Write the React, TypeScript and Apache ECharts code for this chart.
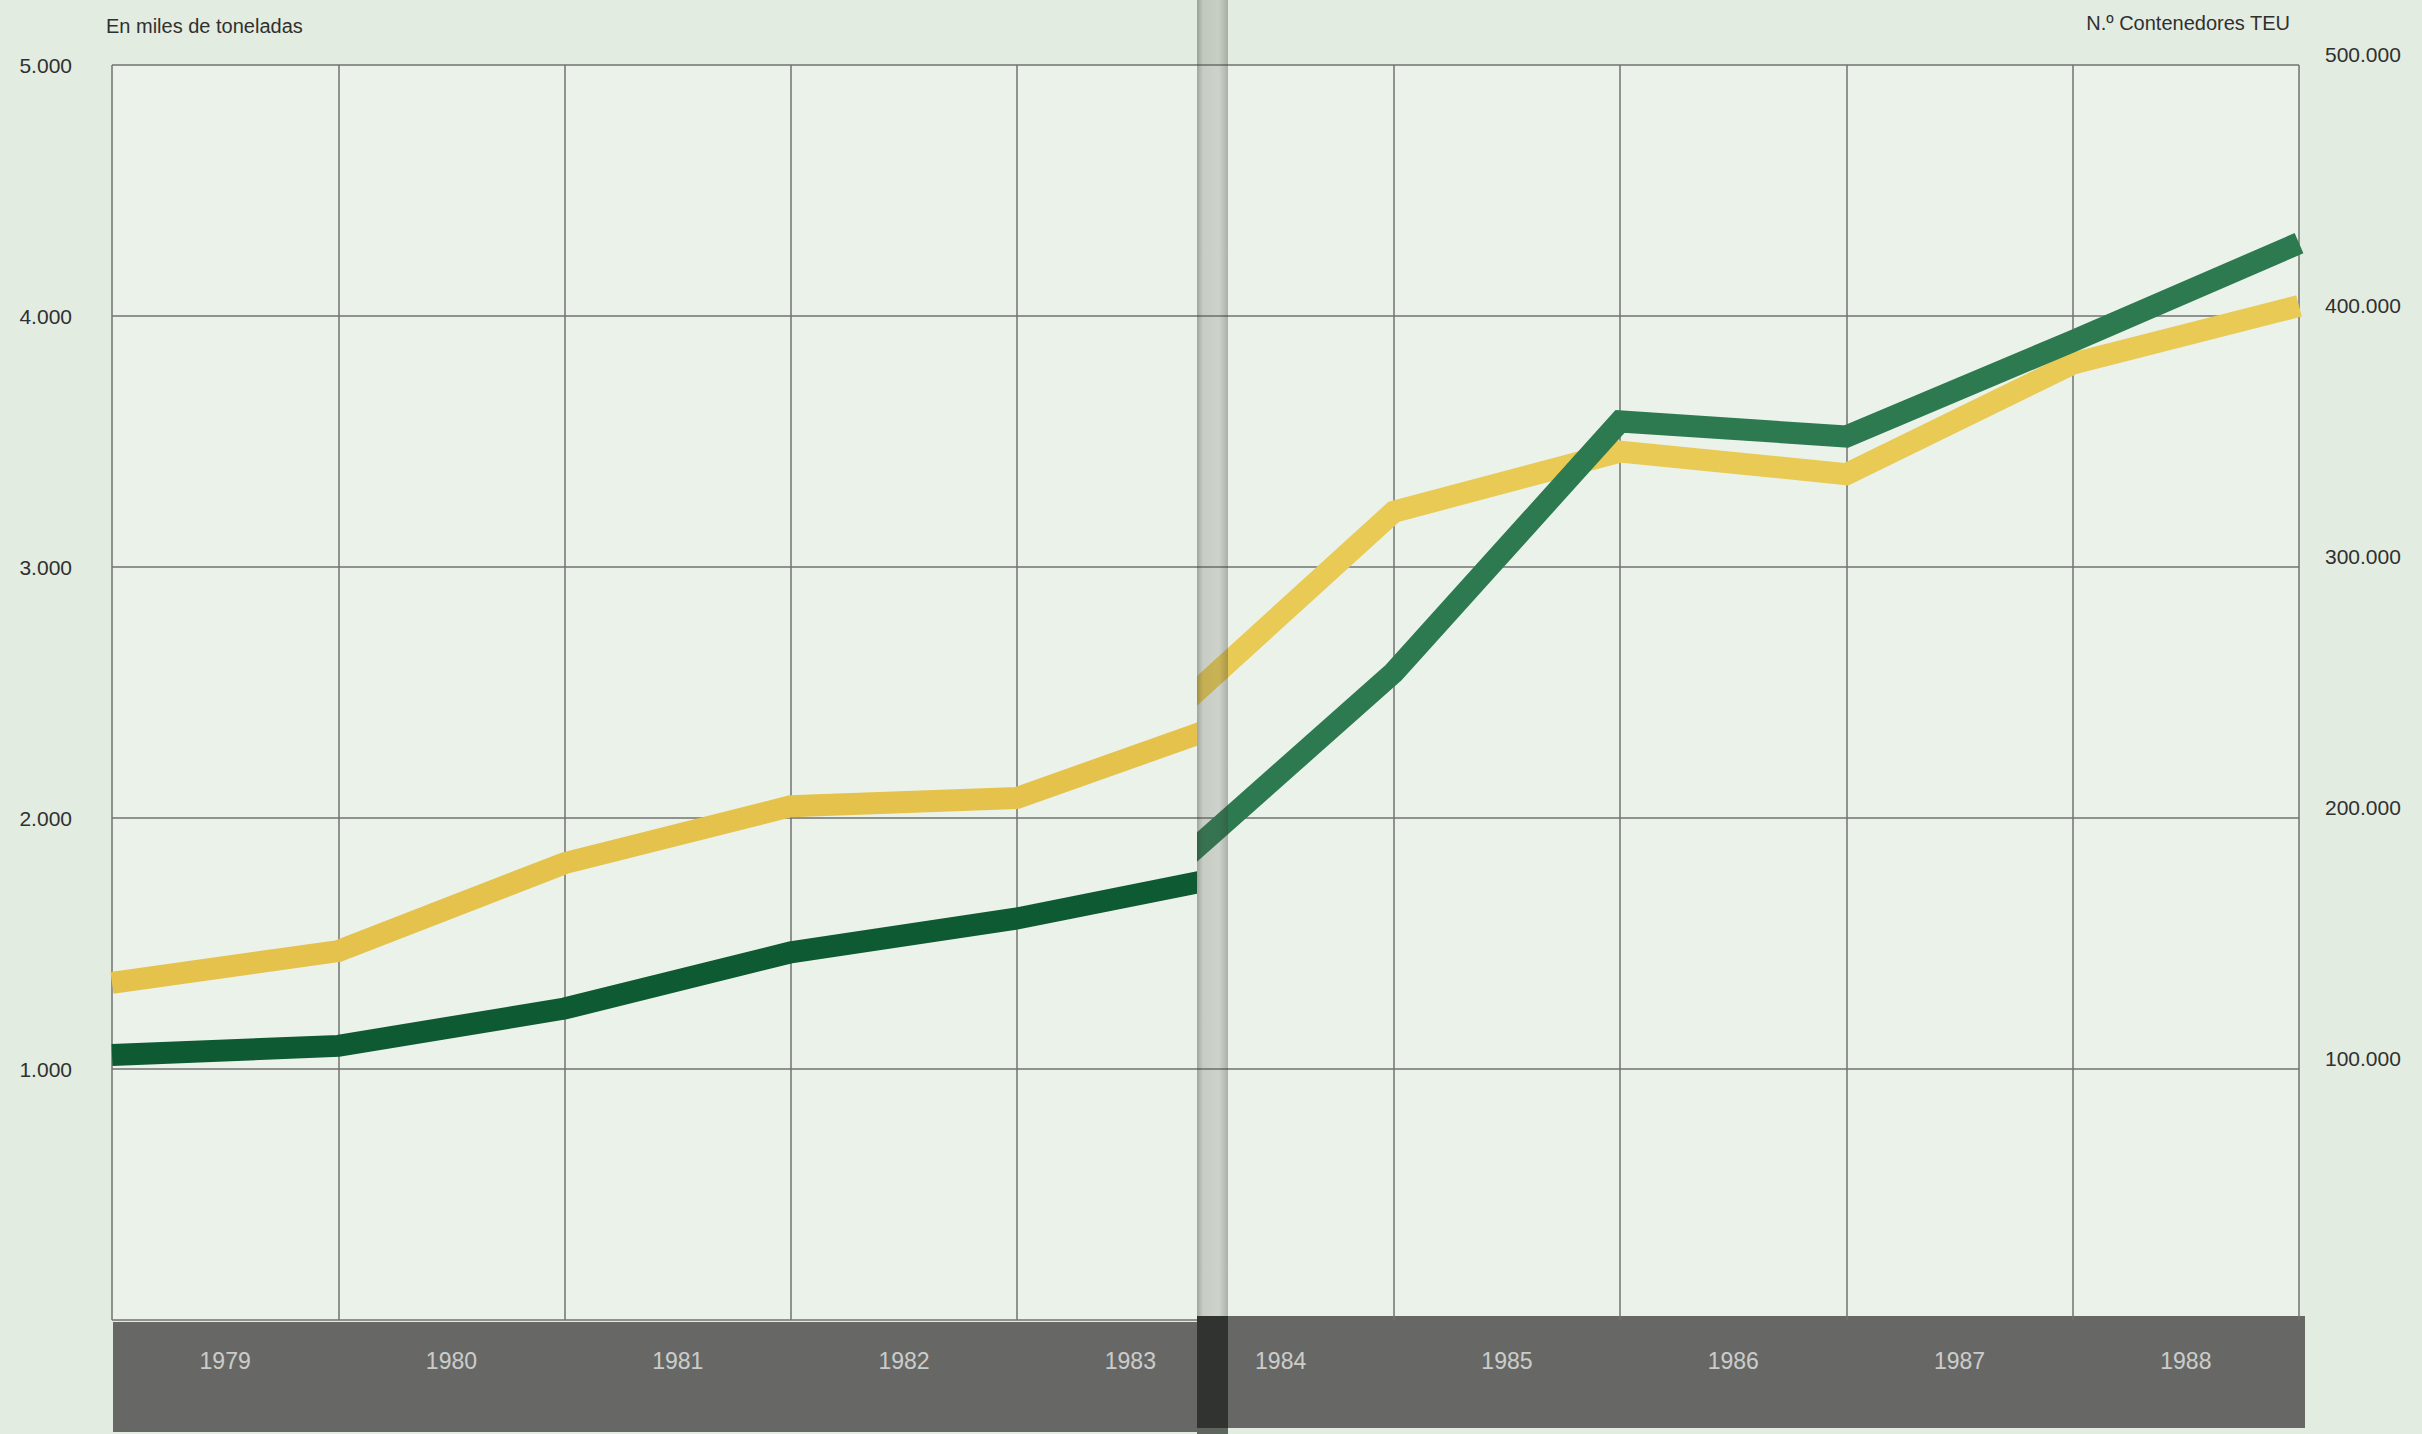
import React, { useEffect, useRef } from "react";
import * as echarts from "echarts";

// ---------- DATA ----------
// Points are plotted on the year boundaries (grid lines), labels sit in the middle of each year band.
const yearBoundaries = [1979, 1980, 1981, 1982, 1983, 1984, 1985, 1986, 1987, 1988, 1989];
const yearLabels = ["1979", "1980", "1981", "1982", "1983", "1984", "1985", "1986", "1987", "1988"];
// Dark green line, left axis: thousands of tonnes
const toneladasMiles = [1056, 1092, 1241, 1465, 1600, 1780, 2580, 3580, 3520, 3900, 4290];
// Yellow line, right axis: number of TEU containers
const contenedoresTEU = [134300, 147000, 182000, 204700, 208000, 240000, 322000, 346000, 337000, 381000, 404000];
const leftAxisTicks = [0, 1000, 2000, 3000, 4000, 5000];
const rightAxisTicks = [0, 100000, 200000, 300000, 400000, 500000];

// ---------- STYLE / LAYOUT ----------
const FONT = "'Liberation Sans', Arial, Helvetica, sans-serif";
const NARROW = "'Liberation Sans Narrow', 'Liberation Sans', Arial, sans-serif";
const PAGE_BG = "#e3ece0";
const PLOT_BG = "#ebf2ea";
const GRID_LINE = "#727272";
const BAND = "#676866";
const TEXT = "#303030";

const W = 2422;
const H = 1434;
const PLOT_TOP = 65;
const PLOT_BOTTOM = 1320;
const LEFT_X0 = 112;
const FOLD_X = 1197;
const FOLD_W = 31;
const RIGHT_X1 = 2299;
const YEAR_PX = 226.3;
const BAND_BOTTOM = 1432;
const LINE_W = 22;
// ECharts widens a line series' clip rect by half the line width on each side
const CLIP_PAD = LINE_W / 2;

const fmt = (v: number) => (v === 0 ? "" : String(v).replace(/\B(?=(\d{3})+(?!\d))/g, "."));

export default function App() {
  const ref = useRef<HTMLDivElement>(null);

  useEffect(() => {
    if (!ref.current) return;
    const chart = echarts.init(ref.current, null, { renderer: "svg" });

    const first = yearBoundaries[0];
    const last = yearBoundaries[yearBoundaries.length - 1];
    const leftW = FOLD_X - CLIP_PAD - LEFT_X0;
    const rightL = FOLD_X + CLIP_PAD;
    const rightW = RIGHT_X1 - rightL;
    const leftMax = first + leftW / YEAR_PX;
    const rightMin = last - rightW / YEAR_PX;
    const ranges = [
      [first, leftMax],
      [rightMin, last],
    ];
    const greens = ["#0e5a32", "#2d7a50"];
    const yellows = ["#e5c24b", "#e8ca55"];

    const series: any[] = [];
    ranges.forEach(([mn, mx], g) => {
      const yTon = g === 0 ? 0 : 2;
      const yTeu = g === 0 ? 1 : 3;
      series.push({
        type: "scatter",
        xAxisIndex: g,
        yAxisIndex: yTon,
        symbolSize: 1,
        itemStyle: { color: "rgba(0,0,0,0)" },
        silent: true,
        clip: false,
        z: 3,
        data: yearLabels
          .map((y, i) => [yearBoundaries[i] + 0.5, 0, y])
          .filter((d) => (d[0] as number) > mn && (d[0] as number) < mx),
        label: {
          show: true,
          position: "inside",
          offset: [0, 41],
          formatter: (p: any) => p.value[2],
          color: "#e8e8e6",
          fontSize: 23,
          fontFamily: NARROW,
        },
        markLine: {
          silent: true,
          symbol: ["none", "none"],
          label: { show: false },
          lineStyle: { color: GRID_LINE, width: 1.5, type: "solid" },
          emphasis: { disabled: true },
          data: yearBoundaries.filter((b) => b >= mn - 1e-6 && b <= mx + 1e-6).map((b) => ({ xAxis: b })),
        },
      });
      series.push({
        type: "line",
        name: "N.º Contenedores TEU",
        xAxisIndex: g,
        yAxisIndex: yTeu,
        showSymbol: false,
        silent: true,
        clip: true,
        z: 10,
        lineStyle: { width: LINE_W, color: yellows[g], cap: "butt", join: "miter" },
        itemStyle: { color: yellows[g] },
        data: yearBoundaries.map((x, i) => [x, contenedoresTEU[i]]),
      });
      series.push({
        type: "line",
        name: "En miles de toneladas",
        xAxisIndex: g,
        yAxisIndex: yTon,
        showSymbol: false,
        silent: true,
        clip: true,
        z: 11,
        lineStyle: { width: LINE_W, color: greens[g], cap: "butt", join: "miter" },
        itemStyle: { color: greens[g] },
        data: yearBoundaries.map((x, i) => [x, toneladasMiles[i]]),
      });
    });

    const axisLabelBase = { fontSize: 21, color: TEXT, fontFamily: FONT, formatter: fmt };
    const splitLine = { show: true, lineStyle: { color: GRID_LINE, width: 1.5 } };
    const lMin = leftAxisTicks[0];
    const lMax = leftAxisTicks[leftAxisTicks.length - 1];
    const lInt = leftAxisTicks[1] - leftAxisTicks[0];
    const rMin = rightAxisTicks[0];
    const rMax = rightAxisTicks[rightAxisTicks.length - 1];
    const rInt = rightAxisTicks[1] - rightAxisTicks[0];

    const gridBase = {
      top: PLOT_TOP,
      height: PLOT_BOTTOM - PLOT_TOP,
      show: true,
      backgroundColor: PLOT_BG,
      borderWidth: 0,
    };

    const option: any = {
      animation: false,
      backgroundColor: PAGE_BG,
      grid: [
        { ...gridBase, left: LEFT_X0, width: leftW },
        { ...gridBase, left: rightL, width: rightW },
        { ...gridBase, left: FOLD_X - CLIP_PAD, width: 2 * CLIP_PAD },
      ],
      xAxis: [
        { type: "value", gridIndex: 0, min: first, max: leftMax, show: false },
        { type: "value", gridIndex: 1, min: rightMin, max: last, show: false },
        { type: "value", gridIndex: 2, min: 0, max: 1, show: false },
      ],
      yAxis: [
        {
          type: "value",
          gridIndex: 0,
          position: "left",
          min: lMin,
          max: lMax,
          interval: lInt,
          axisLine: { show: false },
          axisTick: { show: false },
          axisLabel: { ...axisLabelBase, margin: 40 },
          splitLine,
        },
        { type: "value", gridIndex: 0, min: rMin, max: rMax, interval: rInt, show: false, splitLine: { show: false } },
        { type: "value", gridIndex: 1, min: lMin, max: lMax, interval: lInt, show: false, splitLine: { show: false } },
        {
          type: "value",
          gridIndex: 1,
          position: "right",
          min: rMin,
          max: rMax,
          interval: rInt,
          axisLine: { show: false },
          axisTick: { show: false },
          axisLabel: { ...axisLabelBase, margin: 26, verticalAlign: "bottom" },
          splitLine,
        },
        {
          type: "value",
          gridIndex: 2,
          min: lMin,
          max: lMax,
          interval: lInt,
          axisLine: { show: false },
          axisTick: { show: false },
          axisLabel: { show: false },
          splitLine,
        },
      ],
      series,
      graphic: [
        {
          type: "rect",
          z: 1,
          silent: true,
          shape: { x: LEFT_X0 + 1, y: PLOT_BOTTOM + 2, width: FOLD_X - LEFT_X0 - 1, height: BAND_BOTTOM - PLOT_BOTTOM - 2 },
          style: { fill: BAND },
        },
        {
          type: "rect",
          z: 1,
          silent: true,
          shape: { x: FOLD_X, y: PLOT_BOTTOM - 4, width: RIGHT_X1 + 6 - FOLD_X, height: BAND_BOTTOM - PLOT_BOTTOM },
          style: { fill: BAND },
        },
        {
          type: "rect",
          z: 100,
          silent: true,
          shape: { x: FOLD_X, y: 0, width: FOLD_W, height: PLOT_BOTTOM - 4 },
          style: {
            fill: new echarts.graphic.LinearGradient(0, 0, 1, 0, [
              { offset: 0, color: "rgba(55,58,50,0.42)" },
              { offset: 0.2, color: "rgba(85,88,80,0.24)" },
              { offset: 0.7, color: "rgba(85,88,80,0.20)" },
              { offset: 1, color: "rgba(55,58,50,0.36)" },
            ]),
          },
        },
        {
          type: "rect",
          z: 100,
          silent: true,
          shape: { x: FOLD_X, y: PLOT_BOTTOM - 4, width: FOLD_W, height: H - PLOT_BOTTOM + 4 },
          style: { fill: "rgba(15,20,15,0.62)" },
        },
        {
          type: "text",
          z: 101,
          silent: true,
          x: 106,
          y: 26,
          style: {
            text: "En miles de toneladas",
            fill: TEXT,
            fontSize: 20,
            fontFamily: FONT,
            align: "left",
            verticalAlign: "middle",
          },
        },
        {
          type: "text",
          z: 101,
          silent: true,
          x: 2290,
          y: 23,
          style: {
            text: "N.º Contenedores TEU",
            fill: TEXT,
            fontSize: 20,
            fontFamily: FONT,
            align: "right",
            verticalAlign: "middle",
          },
        },
      ],
    };

    chart.setOption(option);
    return () => chart.dispose();
  }, []);

  return (
    <div
      ref={ref}
      style={{ position: "fixed", left: 0, top: 0, width: W, height: H, background: PAGE_BG }}
    />
  );
}
